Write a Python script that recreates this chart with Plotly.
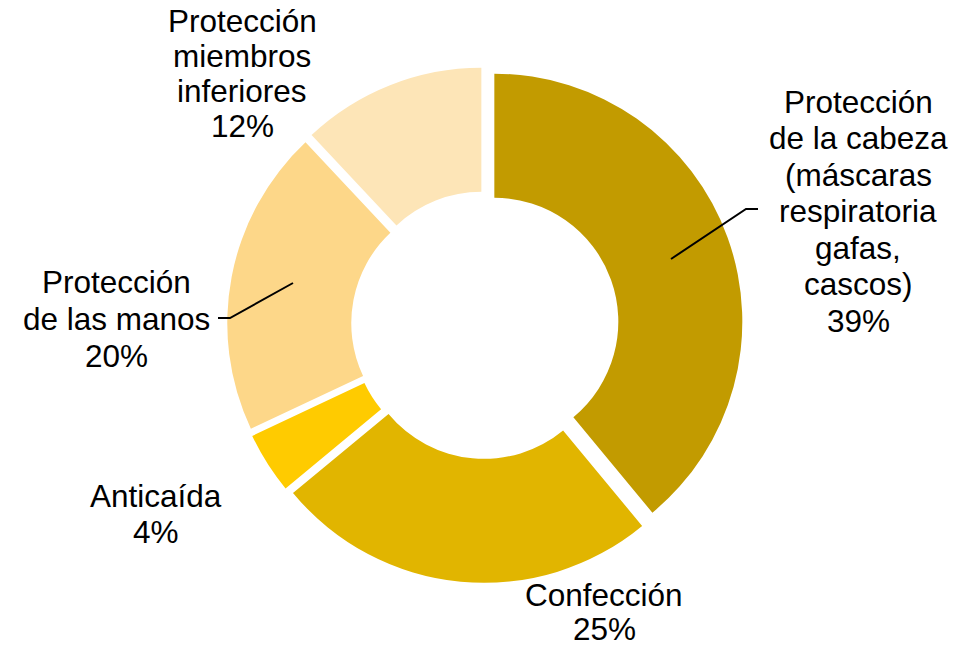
import plotly.graph_objects as go

W, H = 961, 645

categories = [
    "Protección de la cabeza (máscaras respiratoria gafas, cascos)",
    "Confección",
    "Anticaída",
    "Protección de las manos",
    "Protección miembros inferiores",
]
values = [39, 25, 4, 20, 12]
colors = ["#C29B00", "#E1B500", "#FFCB00", "#FDD789", "#FDE5B7"]

# label text lines (the percentage is appended from values)
label_lines = [
    ["Protección", "de la cabeza", "(máscaras", "respiratoria", "gafas,", "cascos)"],
    ["Confección"],
    ["Anticaída"],
    ["Protección", "de las manos"],
    ["Protección", "miembros", "inferiores"],
]
# label placement: centre x (px), baseline of first line (px), line step (px)
label_pos = [
    (858, 113, 36.5),
    (604, 606, 34.5),
    (156, 507, 36.5),
    (116, 293, 37),
    (242, 32, 35),
]
# leader lines (px): list of points
leaders = [
    [(758, 209), (746, 209), (671, 259)],
    [(218, 318), (230, 318), (293, 283)],
]

FONT = "Liberation Sans, Arial, sans-serif"
FS = 31.5

fig = go.Figure()
fig.add_trace(go.Pie(
    labels=categories,
    values=values,
    marker=dict(colors=colors, line=dict(width=0)),
    hole=0.5,
    pull=[0.04] * len(values),
    sort=False,
    direction="clockwise",
    rotation=0,
    textinfo="none",
    showlegend=False,
    domain=dict(x=[227.1 / W, 742.9 / W], y=[62.1 / H, 577.9 / H]),
))

annotations = []
for lines, v, (cx, b0, step) in zip(label_lines, values, label_pos):
    all_lines = lines + [f"{v}%"]
    for i, t in enumerate(all_lines):
        base = b0 + i * step
        yc = base - 0.35 * FS
        annotations.append(dict(
            text=t, x=cx / W, y=1 - yc / H, xref="paper", yref="paper",
            xanchor="center", yanchor="middle", showarrow=False,
            font=dict(family=FONT, size=FS, color="#000000"),
        ))

shapes = []
for pts in leaders:
    path = "M " + " L ".join(f"{x / W},{1 - y / H}" for x, y in pts)
    shapes.append(dict(type="path", path=path, xref="paper", yref="paper",
                       line=dict(color="#000000", width=2)))

fig.update_layout(
    width=W, height=H,
    margin=dict(l=0, r=0, t=0, b=0),
    paper_bgcolor="white", plot_bgcolor="white",
    annotations=annotations, shapes=shapes,
)

fig.write_html("out.html",
               config={"displayModeBar": False},
               post_script="document.body.style.margin='0';document.body.style.padding='0';")
